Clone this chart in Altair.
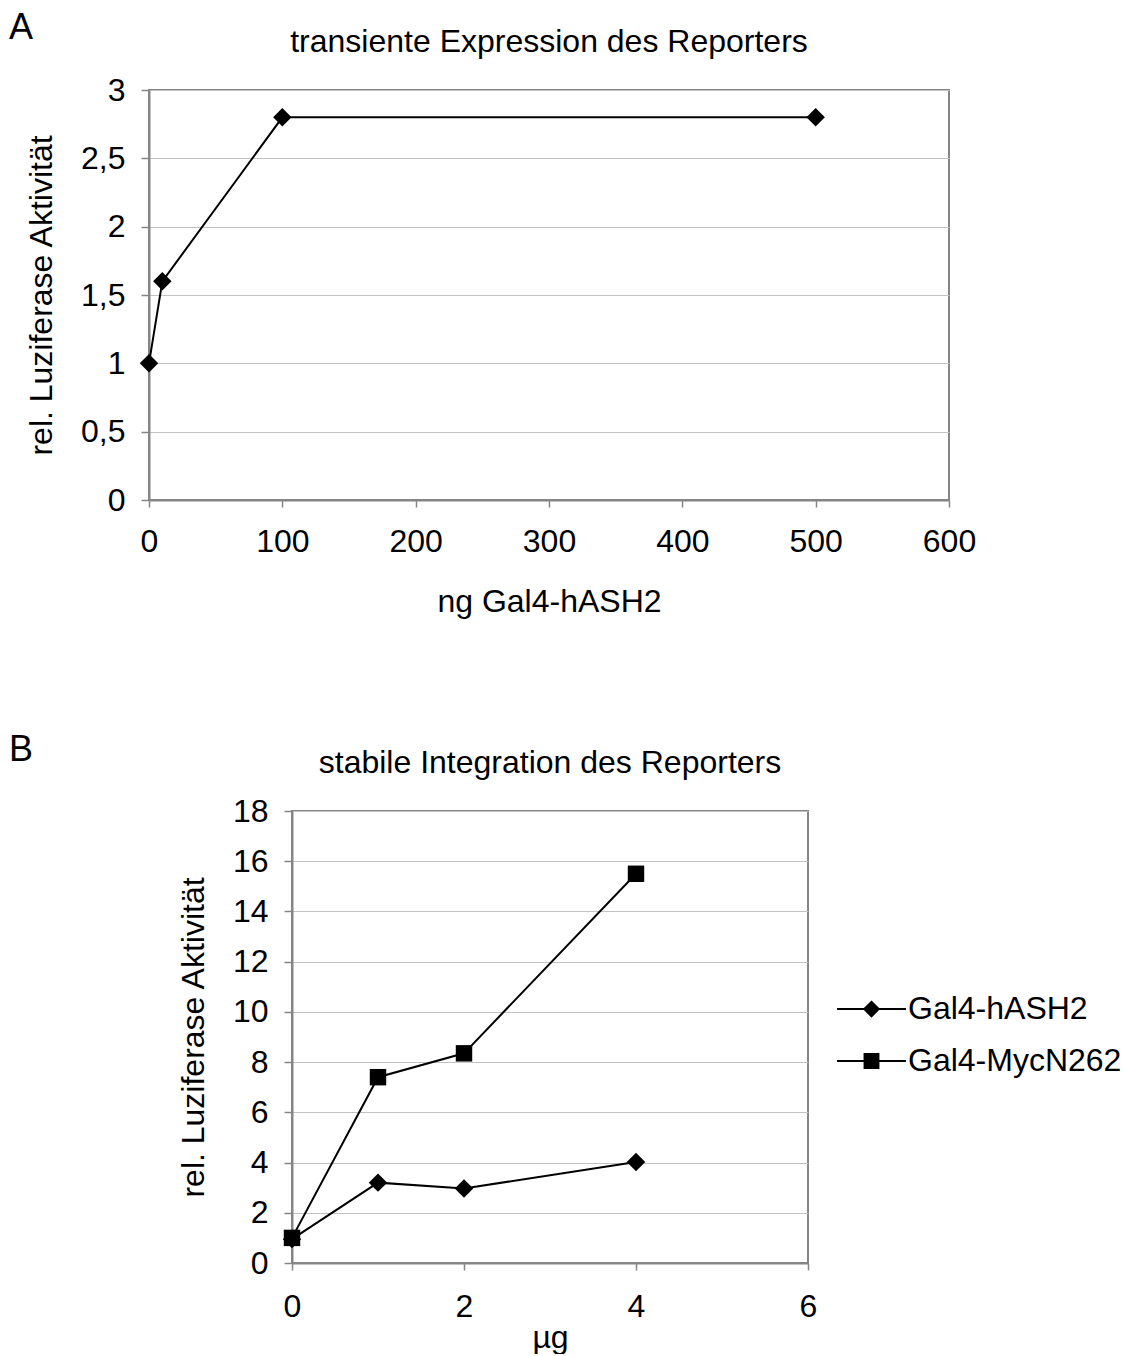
import altair as alt
import pandas as pd

FONT = "Liberation Sans"
GRAY = "#858585"
GRID = "#c2c2c2"
FS = 32

# ---- data: panel A ----
a_x = [0, 10, 100, 500]
a_y = [1.0, 1.6, 2.8, 2.8]
a_xticks = [0, 100, 200, 300, 400, 500, 600]
a_yticks = [0, 0.5, 1, 1.5, 2, 2.5, 3]

# ---- data: panel B ----
b_x = [0, 1, 2, 4]
b_hash2 = [0.95, 3.2, 2.97, 4.02]
b_mycn = [1.0, 7.4, 8.35, 15.5]
series = ["Gal4-hASH2", "Gal4-MycN262"]
b_xticks = [0, 2, 4, 6]
b_yticks = [0, 2, 4, 6, 8, 10, 12, 14, 16, 18]

a_df = pd.DataFrame({"x": a_x, "y": a_y})
b_df = pd.DataFrame({
    "x": b_x + b_x,
    "y": b_hash2 + b_mycn,
    "series": [series[0]] * len(b_x) + [series[1]] * len(b_x),
})

comma = "replace(format(datum.value, '~g'), '.', ',')"

# ---------------- Panel A ----------------
xa = alt.X("x:Q", scale=alt.Scale(domain=[0, 600], nice=False),
           axis=alt.Axis(values=a_xticks, title="ng Gal4-hASH2", grid=False,
                         labelFlush=False, tickSize=7, labelPadding=19,
                         titlePadding=29))
ya = alt.Y("y:Q", scale=alt.Scale(domain=[0, 3], nice=False),
           axis=alt.Axis(values=a_yticks, title="rel. Luziferase Aktivität",
                         labelExpr=comma, grid=True, tickSize=8,
                         labelPadding=16, titlePadding=22))

lineA = alt.Chart(a_df).mark_line(color="black", strokeWidth=2).encode(xa, ya)
ptsA = alt.Chart(a_df).mark_point(shape="diamond", filled=True, color="black",
                                  size=340, opacity=1).encode(xa, ya)
letterA = alt.Chart(pd.DataFrame({"t": ["A"]})).mark_text(
    fontSize=36, font=FONT, align="left", baseline="middle").encode(
    text="t:N", x=alt.value(-140), y=alt.value(-62))
titleA = alt.Chart(pd.DataFrame({"t": ["transiente Expression des Reporters"]})).mark_text(
    fontSize=FS, font=FONT, align="center", baseline="middle").encode(
    text="t:N", x=alt.value(400), y=alt.value(-48))

chartA = alt.layer(lineA, ptsA, letterA, titleA).properties(width=800, height=410)

# ---------------- Panel B ----------------
xb = alt.X("x:Q", scale=alt.Scale(domain=[0, 6], nice=False),
           axis=alt.Axis(values=b_xticks, title="µg", grid=False,
                         labelFlush=False, tickSize=7, labelPadding=21,
                         titlePadding=0))
yb = alt.Y("y:Q", scale=alt.Scale(domain=[0, 18], nice=False),
           axis=alt.Axis(values=b_yticks, title="rel. Luziferase Aktivität",
                         grid=True, tickSize=8, labelPadding=16, titlePadding=22))

lineB = alt.Chart(b_df).mark_line(color="black", strokeWidth=2).encode(
    xb, yb, detail="series:N")
ptsB = alt.Chart(b_df).mark_point(filled=True, color="black", opacity=1).encode(
    xb, yb,
    shape=alt.Shape("series:N", scale=alt.Scale(domain=series, range=["diamond", "square"]),
                    legend=None),
    size=alt.Size("series:O", scale=alt.Scale(domain=series, range=[340, 270]),
                  legend=None))

# legend symbols: a thin horizontal bar (the line) plus the marker
leg_paths = [
    "M-1,-0.03L1,-0.03L1,0.03L-1,0.03Z M0,-0.25L0.25,0L0,0.25L-0.25,0Z",
    "M-1,-0.03L1,-0.03L1,0.03L-1,0.03Z M-0.23,-0.23L0.23,-0.23L0.23,0.23L-0.23,0.23Z",
]
legB = alt.Chart(b_df).transform_filter("false").mark_point(
    filled=True, color="black", opacity=1, size=4761).encode(
    xb, yb,
    shape=alt.Shape("series:N", scale=alt.Scale(domain=series, range=leg_paths),
                    legend=alt.Legend(title=None, orient="none", legendX=545, legendY=183,
                                      symbolSize=4761, symbolFillColor="black",
                                      symbolStrokeWidth=0,
                                      symbolOpacity=1, clipHeight=30, rowPadding=20,
                                      labelFont=FONT, labelFontSize=FS, labelColor="black",
                                      labelOffset=2, padding=0, labelLimit=400)))

titleB = alt.Chart(pd.DataFrame({"t": ["stabile Integration des Reporters"]})).mark_text(
    fontSize=FS, font=FONT, align="center", baseline="middle").encode(
    text="t:N", x=alt.value(258), y=alt.value(-48))

chartB = alt.layer(lineB, ptsB, legB, titleB).resolve_scale(
    shape="independent", size="independent").properties(width=516, height=452)

# spacer column carrying the panel letter B (shifts panel B to the right)
spacerB = alt.Chart(pd.DataFrame({"t": ["B"]})).mark_text(
    fontSize=36, font=FONT, align="left", baseline="middle").encode(
    text="t:N", x=alt.value(-140), y=alt.value(-61)).properties(
    width=26, height=452, view=alt.ViewBackground(stroke="transparent"))

rowA = alt.hconcat(chartA, spacing=0)
rowB = alt.hconcat(spacerB, chartB, spacing=0)

chart = alt.vconcat(rowA, rowB, spacing=113).properties(
    padding={"left": 8, "top": 9, "right": 0, "bottom": 0}
).configure_view(stroke=GRAY, strokeWidth=2).configure_axis(
    domainColor=GRAY, domainWidth=2, tickColor=GRAY, tickWidth=1.5,
    gridColor=GRID, gridWidth=1,
    labelFont=FONT, labelFontSize=FS, labelColor="black",
    titleFont=FONT, titleFontSize=FS, titleFontWeight="normal", titleColor="black",
)

chart.save("out.html", embed_options={"renderer": "svg", "actions": False})
